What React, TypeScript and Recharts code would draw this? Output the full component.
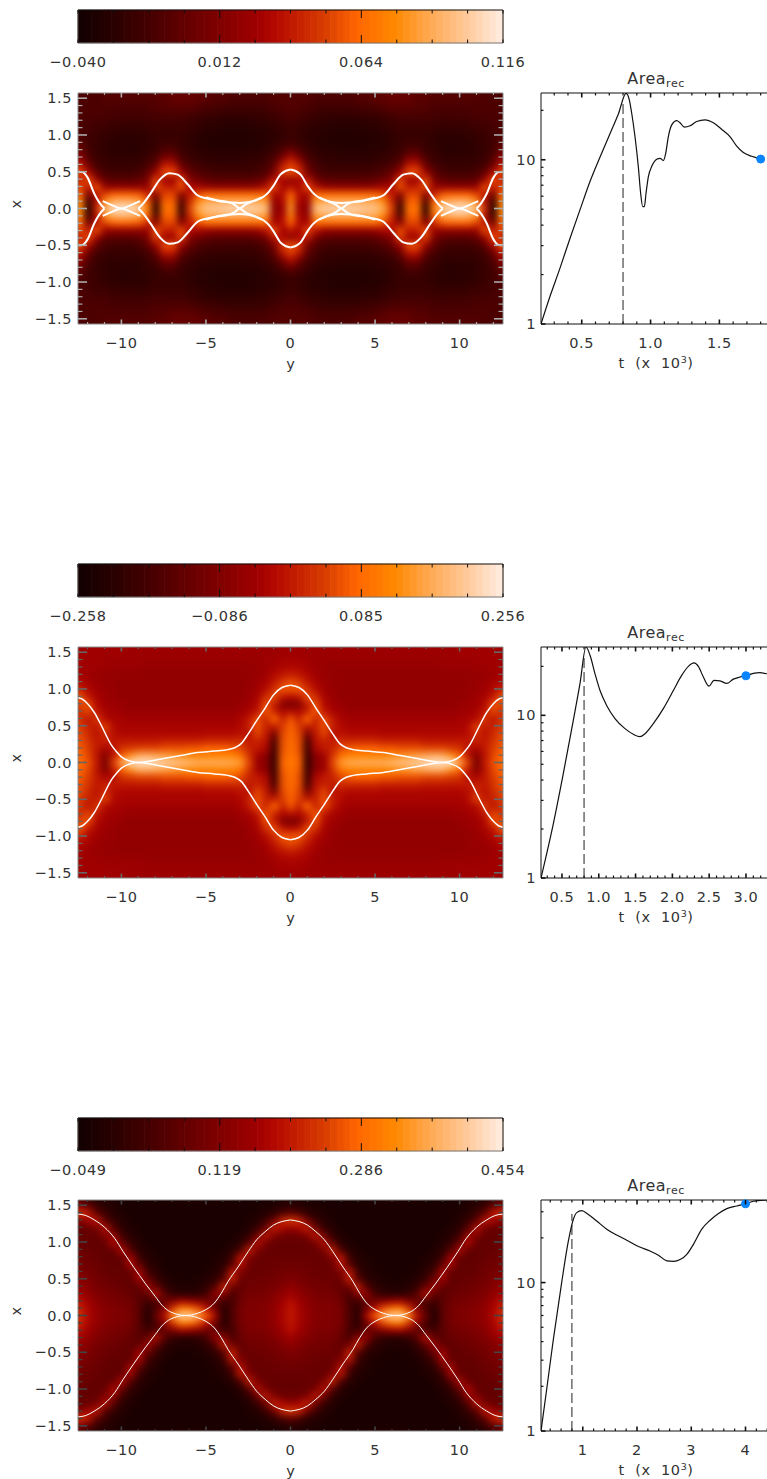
import {
  Bar,
  BarChart,
  Cell,
  Line,
  LineChart,
  ReferenceDot,
  ReferenceLine,
  Scatter,
  ScatterChart,
  XAxis,
  YAxis,
} from 'recharts';

const FONT = '"DejaVu Sans", sans-serif';
const TEXT = '#333';
const LABEL_SIZE = 14.5;
const LABEL_SPACING = 0.6;
const Y_MAX = 12.566;
const X_MAX = 1.5708;
const HEAT_W = 425;
const HEAT_H = 231;
const HEAT_LEFT = 78;

// colour table, position on the bar (0-100) and colour
const colorStops: [number, string][] = [
  [0, '#140000'], [8, '#2a0000'], [17, '#480000'], [25, '#650000'], [33, '#800000'],
  [42, '#a00000'], [46, '#b20800'], [50, '#c01800'], [58, '#d83c00'], [66, '#ff6600'],
  [75, '#ff8800'], [83, '#ffa850'], [92, '#ffc898'], [100, '#ffeadc'],
];

const colorOf = (level: number) => {
  const i = colorStops.findIndex(([p]) => p >= level);
  if (i <= 0) return colorStops[0][1];
  const [p0, c0] = colorStops[i - 1];
  const [p1, c1] = colorStops[i];
  const f = (level - p0) / (p1 - p0);
  const ch = (c: string, k: number) => parseInt(c.slice(k, k + 2), 16);
  const mix = (k: number) => Math.round(ch(c0, k) + (ch(c1, k) - ch(c0, k)) * f);
  return `rgb(${mix(1)},${mix(3)},${mix(5)})`;
};

const barSteps = Array.from({ length: 64 }, (_, i) => ({ step: i, f: (i / 63) * 12, h: 1, color: colorOf((i / 63) * 100) }));

// heat map cells: one quadrant, in percent of the colour bar
const heatColumns = [0, 0.5, 1, 1.5, 2, 2.5, 3, 3.5, 4, 4.5, 5, 5.5, 6, 6.5, 7, 7.5, 8, 8.5, 9, 9.5, 10, 10.5, 11, 11.5, 12, 12.5, 13];
const heatRows = [0, 0.1, 0.2, 0.3, 0.4, 0.5, 0.6, 0.7, 0.8, 0.9, 1, 1.1, 1.2, 1.3, 1.4, 1.5, 1.6, 1.7];

const heat1 = [
  [80, 40, 35, 90, 94, 95, 96, 96, 94, 92, 90, 84, 60, 10, 70, 70, 5, 72, 94, 98, 99, 98, 88, 55, 5, 75, 80],
  [76, 44, 38, 80, 84, 85, 85, 85, 85, 84, 84, 76, 54, 18, 65, 65, 16, 66, 82, 86, 88, 86, 78, 48, 12, 72, 75],
  [66, 48, 42, 68, 68, 68, 68, 68, 68, 68, 68, 62, 50, 35, 60, 60, 35, 54, 64, 66, 66, 66, 60, 50, 28, 65, 70],
  [50, 42, 62, 48, 40, 38, 38, 38, 38, 38, 40, 44, 46, 62, 50, 52, 62, 40, 38, 38, 38, 38, 40, 62, 50, 60, 62],
  [35, 45, 50, 30, 24, 22, 22, 22, 22, 22, 24, 28, 35, 60, 40, 40, 60, 32, 24, 22, 22, 22, 24, 40, 62, 50, 55],
  [62, 58, 32, 20, 16, 15, 15, 15, 15, 16, 17, 20, 26, 42, 62, 62, 42, 24, 17, 15, 15, 15, 17, 24, 45, 62, 62],
  [60, 50, 25, 16, 13, 12, 12, 12, 12, 12, 13, 15, 18, 26, 50, 50, 26, 17, 13, 12, 12, 12, 13, 16, 28, 50, 52],
  [48, 32, 18, 13, 10, 10, 9, 9, 9, 9, 10, 11, 13, 18, 32, 32, 18, 13, 10, 10, 10, 10, 11, 13, 20, 38, 42],
  [28, 20, 13, 10, 8, 8, 7, 7, 7, 7, 8, 9, 11, 13, 20, 20, 13, 11, 9, 8, 9, 9, 10, 12, 16, 28, 30],
  [16, 13, 10, 8, 7, 6, 6, 6, 6, 6, 7, 8, 10, 12, 14, 14, 12, 10, 9, 8, 8, 9, 10, 12, 15, 22, 24],
  [13, 11, 9, 8, 7, 6, 6, 6, 6, 6, 7, 8, 10, 12, 12, 12, 12, 10, 9, 9, 9, 10, 11, 13, 15, 18, 20],
  [14, 12, 10, 9, 8, 7, 7, 7, 7, 8, 8, 10, 11, 13, 13, 13, 13, 12, 11, 11, 11, 12, 13, 14, 16, 18, 20],
  [16, 14, 12, 11, 10, 9, 9, 9, 9, 10, 10, 12, 14, 15, 15, 15, 15, 14, 13, 14, 14, 14, 16, 16, 17, 18, 20],
  [18, 17, 15, 13, 12, 12, 12, 12, 12, 13, 14, 15, 17, 18, 18, 18, 18, 17, 16, 16, 16, 17, 18, 18, 18, 18, 20],
  [20, 19, 18, 16, 15, 15, 15, 15, 16, 17, 18, 20, 22, 22, 22, 20, 20, 18, 18, 18, 18, 18, 18, 18, 18, 18, 18],
  [20, 20, 20, 18, 18, 18, 18, 18, 20, 20, 22, 24, 25, 25, 25, 22, 22, 20, 20, 20, 20, 20, 20, 18, 18, 18, 18],
  [20, 20, 20, 18, 18, 18, 18, 18, 20, 20, 22, 24, 25, 25, 25, 22, 22, 20, 20, 20, 20, 20, 20, 18, 18, 18, 18],
  [20, 20, 20, 18, 18, 18, 18, 18, 20, 20, 22, 24, 25, 25, 25, 22, 22, 20, 20, 20, 20, 20, 20, 18, 18, 18, 18],
];

const heat2 = [
  [72, 66, 10, 36, 40, 60, 80, 84, 86, 86, 86, 86, 88, 90, 92, 94, 96, 98, 99, 98, 85, 60, 30, 50, 62, 68, 70],
  [70, 64, 12, 36, 42, 56, 70, 74, 74, 74, 74, 74, 76, 78, 80, 82, 84, 86, 85, 78, 66, 50, 33, 48, 60, 66, 68],
  [69, 62, 14, 45, 50, 52, 60, 64, 66, 66, 66, 64, 64, 62, 62, 62, 60, 60, 60, 58, 56, 48, 44, 50, 58, 64, 66],
  [68, 62, 16, 48, 52, 50, 55, 54, 54, 54, 54, 52, 52, 52, 52, 52, 50, 50, 50, 50, 50, 50, 52, 50, 56, 62, 64],
  [67, 60, 30, 50, 60, 48, 48, 46, 46, 46, 46, 45, 45, 45, 45, 45, 45, 45, 45, 45, 45, 47, 54, 48, 54, 60, 62],
  [66, 58, 50, 52, 62, 52, 46, 44, 44, 44, 44, 44, 44, 44, 44, 44, 44, 44, 44, 44, 44, 46, 60, 50, 52, 58, 62],
  [64, 52, 68, 52, 62, 50, 44, 42, 42, 42, 42, 42, 42, 42, 42, 42, 42, 42, 42, 42, 43, 44, 46, 58, 48, 56, 60],
  [48, 45, 52, 64, 50, 44, 42, 40, 40, 40, 40, 40, 40, 40, 40, 40, 40, 40, 40, 40, 41, 42, 44, 50, 60, 54, 58],
  [30, 34, 50, 62, 46, 42, 40, 38, 38, 38, 38, 38, 38, 38, 38, 38, 38, 38, 38, 38, 40, 41, 42, 46, 62, 60, 56],
  [46, 48, 62, 55, 44, 40, 38, 38, 38, 38, 38, 38, 38, 38, 38, 38, 38, 38, 38, 38, 38, 40, 41, 44, 50, 64, 62],
  [62, 64, 56, 47, 42, 40, 38, 38, 38, 38, 38, 38, 38, 38, 38, 38, 38, 38, 38, 38, 38, 39, 40, 42, 46, 52, 55],
  [62, 58, 50, 44, 41, 39, 38, 38, 38, 38, 38, 38, 38, 38, 38, 38, 38, 38, 38, 38, 38, 39, 40, 41, 43, 46, 48],
  [52, 50, 46, 42, 40, 39, 38, 38, 38, 38, 38, 38, 38, 38, 38, 38, 38, 38, 38, 38, 38, 39, 39, 40, 41, 43, 44],
  [46, 45, 43, 41, 40, 39, 39, 39, 39, 39, 39, 39, 39, 39, 39, 39, 39, 39, 40, 40, 40, 40, 41, 41, 42, 42, 43],
  [43, 43, 42, 41, 40, 40, 40, 40, 40, 40, 40, 40, 40, 40, 40, 40, 40, 40, 41, 41, 41, 41, 41, 42, 42, 42, 42],
  [42, 42, 41, 41, 41, 41, 41, 41, 41, 41, 41, 41, 41, 41, 41, 41, 41, 41, 41, 41, 42, 42, 42, 42, 42, 42, 42],
  [42, 42, 41, 41, 41, 41, 41, 41, 41, 41, 41, 41, 41, 41, 41, 41, 41, 41, 41, 41, 42, 42, 42, 42, 42, 42, 42],
  [42, 42, 41, 41, 41, 41, 41, 41, 41, 41, 41, 41, 41, 41, 41, 41, 41, 41, 41, 41, 42, 42, 42, 42, 42, 42, 42],
];

const heat3 = [
  [50, 44, 38, 34, 33, 33, 30, 18, 6, 45, 66, 84, 95, 95, 78, 48, 26, 5, 22, 30, 32, 33, 35, 38, 45, 55, 58],
  [50, 44, 38, 34, 33, 33, 30, 18, 8, 28, 48, 62, 72, 74, 58, 36, 18, 8, 22, 30, 32, 33, 35, 38, 44, 52, 55],
  [48, 42, 37, 33, 32, 32, 28, 16, 14, 26, 30, 36, 42, 44, 34, 26, 18, 15, 22, 28, 30, 31, 33, 36, 42, 48, 50],
  [42, 38, 34, 31, 30, 30, 26, 18, 35, 40, 16, 10, 8, 8, 12, 22, 48, 24, 22, 26, 28, 29, 31, 33, 38, 42, 45],
  [38, 34, 31, 30, 29, 28, 25, 28, 52, 20, 10, 6, 5, 5, 6, 12, 25, 42, 24, 24, 26, 27, 29, 31, 35, 38, 40],
  [33, 31, 29, 28, 27, 27, 26, 52, 22, 10, 6, 4, 3, 3, 4, 7, 14, 28, 42, 24, 25, 26, 27, 29, 32, 35, 36],
  [30, 29, 28, 27, 26, 27, 32, 50, 14, 6, 4, 3, 2, 2, 3, 4, 9, 16, 45, 24, 24, 25, 26, 28, 30, 32, 34],
  [28, 27, 27, 26, 26, 27, 48, 22, 9, 5, 3, 2, 2, 2, 2, 3, 6, 10, 26, 44, 24, 24, 25, 27, 28, 30, 32],
  [26, 26, 26, 26, 26, 34, 50, 14, 6, 4, 3, 2, 2, 2, 2, 3, 4, 7, 14, 44, 26, 24, 24, 26, 27, 28, 30],
  [25, 25, 25, 26, 32, 52, 18, 8, 4, 3, 2, 2, 2, 2, 2, 2, 3, 5, 9, 20, 46, 26, 24, 25, 26, 27, 28],
  [25, 25, 26, 30, 48, 22, 8, 4, 3, 2, 2, 2, 2, 2, 2, 2, 2, 3, 6, 12, 26, 46, 26, 24, 25, 26, 27],
  [27, 28, 32, 50, 28, 10, 5, 3, 2, 2, 2, 2, 2, 2, 2, 2, 2, 2, 4, 7, 14, 40, 34, 25, 25, 25, 26],
  [38, 44, 52, 28, 12, 6, 3, 2, 2, 2, 2, 2, 2, 2, 2, 2, 2, 2, 3, 5, 9, 20, 48, 30, 26, 25, 25],
  [58, 54, 30, 14, 7, 4, 2, 2, 2, 2, 2, 2, 2, 2, 2, 2, 2, 2, 2, 3, 6, 12, 22, 50, 42, 34, 30],
  [25, 18, 10, 6, 4, 3, 2, 2, 2, 2, 2, 2, 2, 2, 2, 2, 2, 2, 2, 3, 4, 7, 13, 24, 50, 56, 55],
  [9, 7, 5, 4, 3, 2, 2, 2, 2, 2, 2, 2, 2, 2, 2, 2, 2, 2, 2, 2, 3, 5, 8, 12, 24, 34, 36],
  [5, 4, 3, 3, 2, 2, 3, 3, 3, 4, 4, 5, 5, 5, 4, 4, 3, 3, 3, 3, 3, 4, 5, 7, 12, 18, 20],
  [5, 4, 3, 3, 2, 2, 3, 3, 3, 4, 4, 5, 5, 5, 4, 4, 3, 3, 3, 3, 3, 4, 5, 7, 12, 18, 20],
];

// separatrix curves, one quadrant, [y, x]
const sep1: [number, number][][] = [
  [[0, 0.53], [0.3, 0.51], [0.6, 0.46], [1.03, 0.3], [1.3, 0.22], [1.6, 0.16], [2, 0.115], [2.5, 0.085], [3, 0.075], [3.5, 0.08], [4, 0.09], [4.5, 0.115], [5, 0.14], [5.5, 0.18], [6.08, 0.33], [6.67, 0.46], [7.17, 0.48], [7.7, 0.4], [8.26, 0.21], [8.7, 0.07], [9, 0]],
  [[1.7, 0.15], [2.3, 0.09], [2.7, 0.05], [3, 0], [3.3, 0.05], [3.7, 0.09], [4.3, 0.11], [5, 0.15]],
  [[8.9, 0.1], [9.4, 0.05], [10, 0], [10.6, 0.05], [11.1, 0.1]],
  [[11, 0], [11.3, 0.08], [11.6, 0.2], [12, 0.42], [12.3, 0.495], [12.566, 0.5]],
];
const sep2: [number, number][][] = [
  [[0, 1.05], [0.5, 1.02], [1, 0.92], [1.5, 0.74], [2, 0.57], [2.5, 0.39], [2.9, 0.26], [3.3, 0.2], [3.7, 0.175], [4.5, 0.155], [5.5, 0.136], [6.5, 0.095], [7.5, 0.055], [8.3, 0.02], [9, 0], [9.5, 0.02], [10, 0.077], [10.3, 0.15], [10.6, 0.24], [11.2, 0.51], [11.6, 0.68], [12, 0.8], [12.3, 0.86], [12.566, 0.88]],
];
const sep3: [number, number][][] = [
  [[0, 1.3], [1, 1.23], [1.5, 1.14], [2, 1.03], [2.5, 0.87], [3.1, 0.66], [3.7, 0.46], [4.1, 0.3], [4.5, 0.17], [5, 0.08], [5.5, 0.03], [6.2, 0], [7.1, 0.05], [7.6, 0.14], [8, 0.26], [8.6, 0.44], [9.25, 0.65], [9.9, 0.87], [10.4, 1.05], [11, 1.2], [11.6, 1.3], [12.1, 1.36], [12.566, 1.38]],
];

// Area_rec curves
const area1T = [0.204, 0.269, 0.342, 0.415, 0.487, 0.56, 0.633, 0.705, 0.766, 0.822, 0.846, 0.863, 0.887, 0.911, 0.928, 0.943, 0.955, 0.967, 0.984, 1.008, 1.045, 1.069, 1.093, 1.11, 1.129, 1.154, 1.19, 1.214, 1.246, 1.287, 1.335, 1.396, 1.456, 1.517, 1.578, 1.626, 1.674, 1.735, 1.808];
const area1V = [1, 1.47, 2.19, 3.33, 4.95, 7.37, 10.4, 14.4, 19, 25.4, 23.1, 19.2, 13.8, 9.09, 6.25, 5.19, 5.19, 6.25, 7.9, 9.09, 10.07, 10.2, 9.9, 10.95, 13.8, 16.3, 17.3, 16.8, 15.8, 16.1, 17.1, 17.5, 16.8, 15.3, 13.8, 12.1, 11.06, 10.5, 10.07];
const area2T = [0.215, 0.383, 0.518, 0.654, 0.745, 0.826, 0.881, 0.949, 1.017, 1.107, 1.22, 1.356, 1.47, 1.56, 1.628, 1.741, 1.877, 2.013, 2.126, 2.217, 2.294, 2.353, 2.421, 2.498, 2.565, 2.647, 2.738, 2.828, 2.919, 3, 3.1, 3.19, 3.285];
const area2V = [1, 2.16, 4.38, 9.32, 15.7, 26.3, 23.4, 18, 14.2, 11.5, 9.55, 8.28, 7.64, 7.39, 7.71, 8.89, 11, 14.2, 17.6, 20, 21, 20, 17.2, 15.1, 16.4, 16.3, 15.7, 16.7, 17.2, 17.5, 18.1, 18.3, 18];
const area3T = [0.23, 0.335, 0.458, 0.611, 0.734, 0.827, 0.888, 0.98, 1.103, 1.257, 1.442, 1.626, 1.811, 2.026, 2.241, 2.395, 2.549, 2.672, 2.795, 2.918, 3.04, 3.194, 3.348, 3.502, 3.656, 3.84, 4, 4.148, 4.4];
const area3V = [1, 1.91, 4.15, 10, 19, 26.7, 29.6, 30.5, 28.8, 26, 22.9, 20.9, 19.3, 17.5, 16.3, 15.3, 14, 13.9, 14.3, 15.5, 18.1, 22.9, 26.3, 29.2, 31.5, 32.8, 33.9, 35.3, 36];

const yTicks = [-12, -11, -10, -9, -8, -7, -6, -5, -4, -3, -2, -1, 0, 1, 2, 3, 4, 5, 6, 7, 8, 9, 10, 11, 12];
const yMajor = [-10, -5, 0, 5, 10];
const xTicks = [-1.5, -1.4, -1.3, -1.2, -1.1, -1, -0.9, -0.8, -0.7, -0.6, -0.5, -0.4, -0.3, -0.2, -0.1, 0, 0.1, 0.2, 0.3, 0.4, 0.5, 0.6, 0.7, 0.8, 0.9, 1, 1.1, 1.2, 1.3, 1.4, 1.5];
const xMajor = [-1.5, -1, -0.5, 0, 0.5, 1, 1.5];
const areaTicks = [1, 2, 3, 4, 5, 6, 7, 8, 9, 10, 20, 30];
const areaMajor = [1, 10];
const barTicks = [0, 1, 2, 3, 4, 5, 6, 7, 8, 9, 10, 11, 12];
const frameCorners = [{ y: -Y_MAX, x: -X_MAX }, { y: Y_MAX, x: X_MAX }];

const minusFmt = (v: number, digits: number) => (v < 0 ? '\u2212' : '') + Math.abs(v).toFixed(digits);

type Side = 'left' | 'right' | 'top' | 'bottom';

const labelProps = { fontFamily: FONT, fontSize: LABEL_SIZE, letterSpacing: LABEL_SPACING, fill: TEXT };
const bareAxis = { tickLine: false, tickSize: 0, tickMargin: 0, interval: 0 as const };

// inward tick mark, plus a label when the axis is on the labelled side
const inwardTick =
  (side: Side, majors: number[], majorLen: number, minorLen: number, stroke: string, label?: (v: number) => string, gap = 24) =>
  (p: any) => {
    const v = p.payload.value;
    const major = majors.includes(v);
    const len = major ? majorLen : minorLen;
    const dx = side === 'left' ? len : side === 'right' ? -len : 0;
    const dy = side === 'top' ? len : side === 'bottom' ? -len : 0;
    return (
      <g>
        <line x1={p.x} y1={p.y} x2={p.x + dx} y2={p.y + dy} stroke={stroke} strokeWidth={major ? 1.6 : 1.2} />
        {major && label && side === 'bottom' && (
          <text x={p.x} y={p.y + gap} textAnchor="middle" {...labelProps}>
            {label(v)}
          </text>
        )}
        {major && label && side === 'left' && (
          <text x={p.x - gap} y={p.y + 5} textAnchor="end" {...labelProps}>
            {label(v)}
          </text>
        )}
      </g>
    );
  };

function ColorBar({ top, labels }: { top: number; labels: string[] }) {
  const tick = (side: Side) => (p: any) => {
    const v = p.payload.value;
    const dir = side === 'top' ? 1 : -1;
    const len = v === 4 || v === 8 ? 8 : 3.5;
    return (
      <g>
        <line x1={p.x} y1={p.y} x2={p.x} y2={p.y + dir * len} stroke="#111" />
        {side === 'bottom' && v % 4 === 0 && (
          <text x={p.x} y={p.y + 24} textAnchor="middle" {...labelProps}>
            {labels[v / 4]}
          </text>
        )}
      </g>
    );
  };
  return (
    <div style={{ position: 'absolute', left: 0, top: top - 5 }}>
      <BarChart width={540} height={70} data={barSteps} barCategoryGap={0} margin={{ top: 0, right: 0, bottom: 0, left: 0 }}>
        <XAxis dataKey="step" hide height={0} />
        <XAxis xAxisId="top" orientation="top" type="number" dataKey="f" height={5} domain={[0, 12]} allowDataOverflow ticks={barTicks} {...bareAxis} stroke="#111" tick={tick('top')} />
        <XAxis xAxisId="bottom" orientation="bottom" type="number" dataKey="f" height={32} domain={[0, 12]} allowDataOverflow ticks={barTicks} {...bareAxis} stroke="#777" tick={tick('bottom')} />
        <YAxis domain={[0, 1]} width={HEAT_LEFT} tick={false} tickLine={false} tickSize={0} stroke="#444" />
        <YAxis yAxisId="r" orientation="right" domain={[0, 1]} width={37} tick={false} tickLine={false} tickSize={0} stroke="#111" />
        <Bar dataKey="h" isAnimationActive={false}>
          {barSteps.map((s) => (
            <Cell key={s.step} fill={s.color} stroke={s.color} strokeWidth={0.5} />
          ))}
        </Bar>
      </BarChart>
    </div>
  );
}

function HeatField({ top, levels }: { top: number; levels: number[][] }) {
  const pxY = HEAT_W / (2 * Y_MAX);
  const pxX = HEAT_H / (2 * X_MAX);
  const yLim = 14;
  const xLim = 1.9;
  const w = 2 * yLim * pxY;
  const h = 2 * xLim * pxX;
  const cells: { y: number; x: number; level: number }[] = [];
  heatRows.forEach((x, r) =>
    heatColumns.forEach((y, c) => {
      for (const sy of y === 0 ? [1] : [1, -1]) {
        for (const sx of x === 0 ? [1] : [1, -1]) {
          cells.push({ y: sy * y, x: sx * x, level: levels[r][c] });
        }
      }
    }),
  );
  const cellW = 0.5 * pxY + 1;
  const cellH = 0.1 * pxX + 1;
  const shape = (p: any) => (
    <rect x={p.cx - cellW / 2} y={p.cy - cellH / 2} width={cellW} height={cellH} fill={colorOf(p.payload.level)} />
  );
  return (
    <div style={{ position: 'absolute', left: HEAT_LEFT, top, width: HEAT_W, height: HEAT_H, overflow: 'hidden' }}>
      <div style={{ position: 'absolute', left: -(w - HEAT_W) / 2, top: -(h - HEAT_H) / 2, filter: 'blur(3.5px)' }}>
        <ScatterChart width={w} height={h} margin={{ top: 0, right: 0, bottom: 0, left: 0 }}>
          <XAxis type="number" dataKey="y" domain={[-yLim, yLim]} hide />
          <YAxis type="number" dataKey="x" domain={[-xLim, xLim]} hide />
          <Scatter data={cells} shape={shape} isAnimationActive={false} />
        </ScatterChart>
      </div>
    </div>
  );
}

function HeatFrame({ top, curves, lineWidth, tickColor }: { top: number; curves: [number, number][][]; lineWidth: number; tickColor: string }) {
  const branches: { y: number; x: number }[][] = [];
  curves.forEach((c) => {
    [1, -1].forEach((sx) => {
      const right = c.map(([y, x]) => ({ y, x: sx * x }));
      branches.push(right, right.map((d) => ({ y: -d.y, x: d.x })).reverse());
    });
  });
  const fmtY = (v: number) => minusFmt(v, 0);
  const fmtX = (v: number) => minusFmt(v, 1);
  return (
    <div style={{ position: 'absolute', left: 0, top: top - 10 }}>
      <LineChart width={520} height={HEAT_H + 70} data={frameCorners} margin={{ top: 0, right: 0, bottom: 0, left: 0 }}>
        <XAxis
          type="number" dataKey="y" domain={[-Y_MAX, Y_MAX]} allowDataOverflow height={60} ticks={yTicks} {...bareAxis}
          stroke="#888" tick={inwardTick('bottom', yMajor, 4.5, 2, tickColor, fmtY)}
          label={{ value: 'y', position: 'insideBottom', offset: 15, style: { fontFamily: FONT, fontSize: LABEL_SIZE, fill: TEXT } }}
        />
        <XAxis
          xAxisId="top" orientation="top" type="number" dataKey="y" domain={[-Y_MAX, Y_MAX]} allowDataOverflow height={10} ticks={yTicks} {...bareAxis}
          stroke="#888" tick={inwardTick('top', yMajor, 4.5, 2, tickColor)}
        />
        <YAxis
          type="number" domain={[-X_MAX, X_MAX]} allowDataOverflow width={HEAT_LEFT} ticks={xTicks} {...bareAxis}
          stroke="#888" tick={inwardTick('left', xMajor, 9, 4.5, tickColor, fmtX, 6)}
          label={{ value: 'x', angle: -90, position: 'insideLeft', offset: 16, style: { fontFamily: FONT, fontSize: LABEL_SIZE, fill: TEXT } }}
        />
        <YAxis
          yAxisId="right" orientation="right" type="number" domain={[-X_MAX, X_MAX]} allowDataOverflow width={17} ticks={xTicks} {...bareAxis}
          stroke="#888" tick={inwardTick('right', xMajor, 9, 4.5, tickColor)}
        />
        {branches.map((b, i) => (
          <Line key={i} data={b} dataKey="x" type="monotoneX" stroke="#fff" strokeWidth={lineWidth} dot={false} isAnimationActive={false} />
        ))}
      </LineChart>
    </div>
  );
}

function AreaPlot(props: {
  top: number;
  tValues: number[];
  aValues: number[];
  tDomain: [number, number];
  aTop: number;
  tTicks: number[];
  tMajor: number[];
  digits: number;
  dashTop: number;
  dot: [number, number];
}) {
  const { top, tValues, aValues, tDomain, aTop, tTicks, tMajor, digits, dashTop, dot } = props;
  const data = tValues.map((t, i) => ({ t, area: aValues[i] }));
  const aTicks = areaTicks.filter((v) => v <= aTop);
  const fmtA = (v: number) => String(v);
  const fmtT = (v: number) => v.toFixed(digits);
  const textStyle = { fontFamily: FONT, fill: TEXT };
  return (
    <div style={{ position: 'absolute', left: 491, top: top - 30 }}>
      <LineChart width={300} height={HEAT_H + 90} data={data} margin={{ top: 0, right: 0, bottom: 0, left: 0 }}>
        <XAxis
          type="number" dataKey="t" domain={tDomain} allowDataOverflow height={60} ticks={tTicks} {...bareAxis}
          stroke="#111" tick={inwardTick('bottom', tMajor, 4.5, 2.5, '#111', fmtT)}
        />
        <XAxis
          xAxisId="top" orientation="top" type="number" dataKey="t" domain={tDomain} allowDataOverflow height={30} ticks={tTicks} {...bareAxis}
          stroke="#111" tick={inwardTick('top', tMajor, 4.5, 2.5, '#111')}
        />
        <YAxis
          type="number" scale="log" domain={[1, aTop]} allowDataOverflow width={50} ticks={aTicks} {...bareAxis}
          stroke="#111" tick={inwardTick('left', areaMajor, 4.5, 2.5, '#111', fmtA, 5)}
        />
        <YAxis yAxisId="right" orientation="right" type="number" scale="log" domain={[1, aTop]} allowDataOverflow width={20} tick={false} tickLine={false} tickSize={0} stroke="#111" />
        <ReferenceLine segment={[{ x: 0.8, y: 1 }, { x: 0.8, y: dashTop }]} stroke="#222" strokeDasharray="10 4" />
        <Line dataKey="area" type="monotoneX" stroke="#111" strokeWidth={1.2} dot={false} isAnimationActive={false} />
        <ReferenceDot x={dot[0]} y={dot[1]} r={4} fill="#0a84ff" stroke="#0a84ff" />
        <text x={165} y={21} textAnchor="middle" {...textStyle} fontSize={16} letterSpacing={0.5}>
          Area<tspan fontSize={11} dy={3}>rec</tspan>
        </text>
        <text x={165} y={HEAT_H + 74} textAnchor="middle" {...textStyle} fontSize={LABEL_SIZE} letterSpacing={0.6} style={{ whiteSpace: 'pre' }}>
          {'t  (x  10'}<tspan fontSize={9.5} dy={-5}>3</tspan><tspan dy={5}>)</tspan>
        </text>
      </LineChart>
    </div>
  );
}

export default function App() {
  return (
    <div style={{ position: 'absolute', left: 0, top: 0, width: 767, height: 1479, overflow: 'hidden', background: '#fff' }}>
      <ColorBar top={10} labels={['\u22120.040', '0.012', '0.064', '0.116']} />
      <HeatField top={93} levels={heat1} />
      <HeatFrame top={93} curves={sep1} lineWidth={2} tickColor="#aaa" />
      <AreaPlot top={93} tValues={area1T} aValues={area1V} tDomain={[0.204, 1.875]} aTop={25.5} tTicks={[0.3, 0.4, 0.5, 0.6, 0.7, 0.8, 0.9, 1, 1.1, 1.2, 1.3, 1.4, 1.5, 1.6, 1.7, 1.8]} tMajor={[0.5, 1, 1.5]} digits={1} dashTop={22} dot={[1.8, 10.1]} />

      <ColorBar top={564} labels={['\u22120.258', '\u22120.086', '0.085', '0.256']} />
      <HeatField top={647} levels={heat2} />
      <HeatFrame top={647} curves={sep2} lineWidth={1.5} tickColor="#666" />
      <AreaPlot top={647} tValues={area2T} aValues={area2V} tDomain={[0.215, 3.34]} aTop={26.3} tTicks={[0.3, 0.4, 0.5, 0.6, 0.7, 0.8, 0.9, 1, 1.1, 1.2, 1.3, 1.4, 1.5, 1.6, 1.7, 1.8, 1.9, 2, 2.1, 2.2, 2.3, 2.4, 2.5, 2.6, 2.7, 2.8, 2.9, 3, 3.1, 3.2, 3.3]} tMajor={[0.5, 1, 1.5, 2, 2.5, 3]} digits={1} dashTop={23} dot={[3, 17.5]} />

      <ColorBar top={1118} labels={['\u22120.049', '0.119', '0.286', '0.454']} />
      <HeatField top={1200} levels={heat3} />
      <HeatFrame top={1200} curves={sep3} lineWidth={1} tickColor="#444" />
      <AreaPlot top={1200} tValues={area3T} aValues={area3V} tDomain={[0.23, 4.47]} aTop={36} tTicks={[0.4, 0.6, 0.8, 1, 1.2, 1.4, 1.6, 1.8, 2, 2.2, 2.4, 2.6, 2.8, 3, 3.2, 3.4, 3.6, 3.8, 4, 4.2, 4.4]} tMajor={[1, 2, 3, 4]} digits={0} dashTop={29} dot={[4, 33.9]} />
    </div>
  );
}
